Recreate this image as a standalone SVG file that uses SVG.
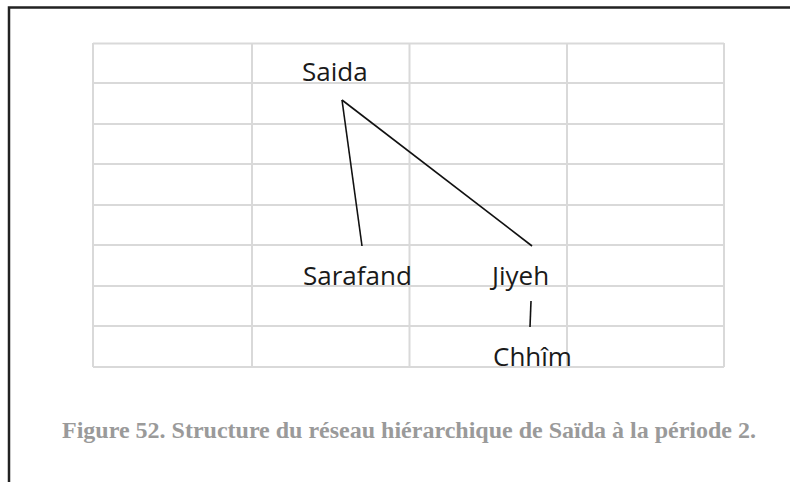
<svg xmlns="http://www.w3.org/2000/svg" width="790" height="482" viewBox="0 0 790 482">
<style>
.grid{stroke:#d9d9d9;stroke-width:2;fill:none}
.frame{stroke:#222;stroke-width:2.5;fill:none}
.lbl{font-family:"Open Sans","Noto Sans",sans-serif;font-size:26px;fill:#1a1a1a}
.edge{stroke:#111;stroke-width:1.6;fill:none}
.cap{font-family:"Liberation Serif","Times New Roman",serif;font-weight:bold;font-size:24px;fill:#9a9a9a}
</style>
<rect width="790" height="482" fill="#fff"/>
<path class="frame" d="M9,482 V7.5 H790"/>
<g id="grid">
<path class="grid" d="M93,43.5 H724 M93,83 H724 M93,124 H724 M93,164 H724 M93,205 H724 M93,245 H724 M93,286 H724 M93,326 H724 M93,367 H724"/>
<path class="grid" d="M93,43 V367 M252,43 V367 M409.5,43 V367 M567,43 V367 M724,43 V367"/>
</g>
<g id="connectors">
<line class="edge" x1="342" y1="100" x2="362" y2="246"/>
<line class="edge" x1="342" y1="100" x2="532" y2="246"/>
<line class="edge" x1="531" y1="301" x2="530" y2="327"/>
</g>
<g id="node-saida"><text class="lbl" x="302" y="81">Saida</text></g>
<g id="node-sarafand"><text class="lbl" x="303" y="285">Sarafand</text></g>
<g id="node-jiyeh"><text class="lbl" x="492" y="285">Jiyeh</text></g>
<g id="node-chhim"><text class="lbl" x="493" y="366">Chhîm</text></g>
<text class="cap" x="62" y="438">Figure 52. Structure du réseau hiérarchique de Saïda à la période 2.</text>
</svg>
